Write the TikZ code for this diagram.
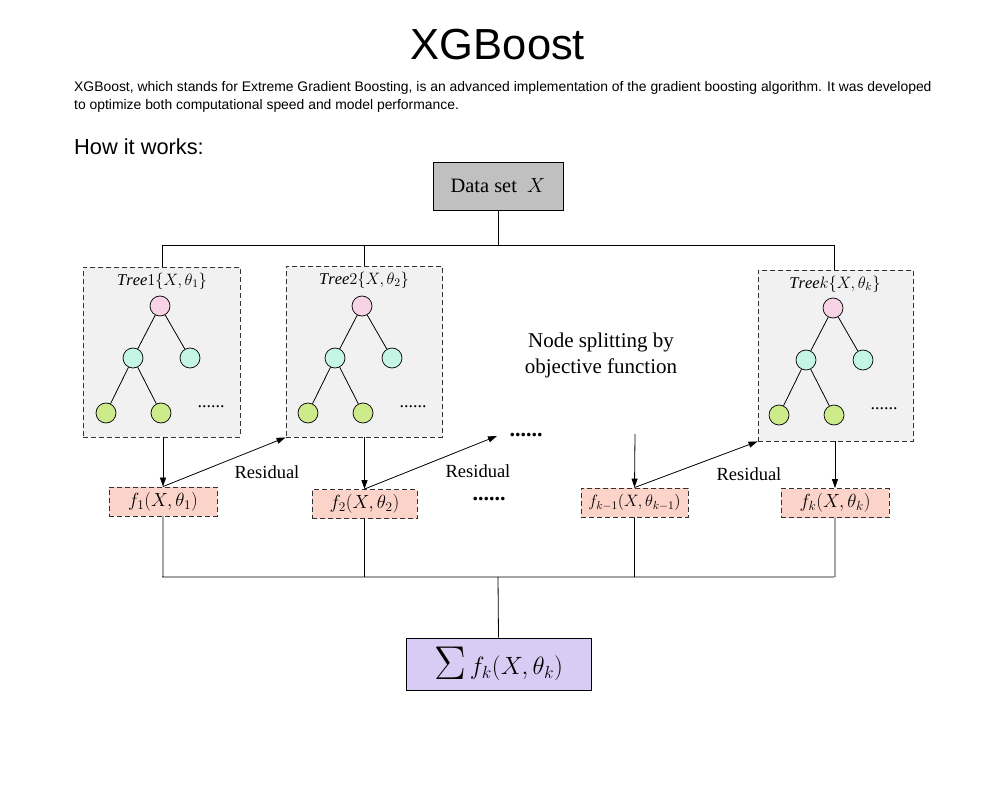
\RequirePackage{fix-cm}
\documentclass[tikz,border=0pt]{standalone}
\usepackage{fontspec}
\setmainfont{Liberation Serif}
\newfontfamily\sans{Liberation Sans}
\usetikzlibrary{arrows.meta}
\definecolor{treebg}{HTML}{F1F1F1}
\definecolor{rootc}{HTML}{F8D3E6}
\definecolor{midc}{HTML}{C5F5E5}
\definecolor{leafc}{HTML}{CDEB8B}
\definecolor{fc}{HTML}{FCD3C8}
\definecolor{sumc}{HTML}{D8CCF4}
\definecolor{dsc}{HTML}{C0C0C0}
\begin{document}
\begin{tikzpicture}[x=1pt,y=-1pt,
  treebox/.style={draw=black!80,dashed,fill=treebg,line width=0.9pt,dash pattern=on 5pt off 3pt},
  fbox/.style={draw=black!80,fill=fc,line width=0.9pt,dash pattern=on 5pt off 3pt,minimum height=29pt,inner sep=1pt,font=\fontsize{19}{21}\selectfont},
  tn/.style={circle,draw,line width=0.7pt,minimum size=20pt,inner sep=0pt},
  ln/.style={line width=0.8pt},
  arr/.style={line width=0.8pt,-{Triangle[length=9pt,width=6pt]}},
  lbl/.style={font=\fontsize{16.5}{18}\selectfont},
  res/.style={font=\fontsize{18.5}{20}\selectfont},
  bigdots/.style={font=\bfseries\fontsize{22}{22}\selectfont}]
\useasboundingbox (0,0) rectangle (996,794);
\node[font=\sans\fontsize{43.5}{46}\selectfont] (title) at (498,45) {XGBoost};
\node[font=\sans\fontsize{13.9}{18}\selectfont,anchor=north west,align=left,inner sep=0] (para) at (74,81) {XGBoost, which stands for Extreme Gradient Boosting, is an advanced implementation of the gradient boosting algorithm. It was developed\\to optimize both computational speed and model performance.};
\node[font=\sans\fontsize{21.8}{24}\selectfont,anchor=west,inner sep=0] (how) at (74,147) {How it works:};
\node[draw,fill=dsc,line width=0.9pt,minimum width=130pt,minimum height=48pt,font=\fontsize{20.4}{22}\selectfont] (ds) at (498,186) {Data set \ $X$};
% trees
\node[treebox,minimum width=157pt,minimum height=170pt] (t1) at (161.5,352) {};
\node[treebox,minimum width=156pt,minimum height=171pt] (t2) at (364,351.5) {};
\node[treebox,minimum width=155pt,minimum height=171pt] (tk) at (835.5,355.5) {};
\node[lbl] (t1l) at (162,281) {$\mathit{Tree}1\{X,\theta_1\}$};
\node[lbl] (t2l) at (364,280) {$\mathit{Tree}2\{X,\theta_2\}$};
\node[lbl] (tkl) at (835,284) {$\mathit{Tree}k\{X,\theta_k\}$};
\foreach \n/\dx/\dy in {1/0/0,2/202/0,k/673/2}{
  \node[tn,fill=rootc] (r\n) at (160+\dx,306+\dy) {};
  \node[tn,fill=midc] (a\n) at (133+\dx,358+\dy) {};
  \node[tn,fill=midc] (b\n) at (190+\dx,358+\dy) {};
  \node[tn,fill=leafc] (c\n) at (106+\dx,413+\dy) {};
  \node[tn,fill=leafc] (d\n) at (161+\dx,413+\dy) {};
  \node[font=\fontsize{18}{18}\selectfont] (e\n) at (211+\dx,407+\dy) {......};
  \draw[ln] (r\n)--(a\n) (r\n)--(b\n) (a\n)--(c\n) (a\n)--(d\n);
}
% top connectors
\coordinate (j0) at (498,245);
\coordinate (j1) at (162,245);
\coordinate (j2) at (364,245);
\coordinate (jk) at (834,245);
\draw[ln] (ds.south)--(j0) (j1)--(jk) (j1)--(j1|-t1.north) (j2)--(j2|-t2.north) (jk)--(jk|-tk.north);
% f boxes
\node[fbox,minimum width=108pt] (f1) at (163,501.5) {$f_1(X,\theta_1)$};
\node[fbox,minimum width=105pt] (f2) at (364.5,504) {$f_2(X,\theta_2)$};
\node[fbox,minimum width=107pt,font=\fontsize{16.5}{18}\selectfont] (fk1) at (634.5,502.5) {$f_{k-1}(X,\theta_{k-1})$};
\node[fbox,minimum width=108pt] (fk) at (835,503) {$f_k(X,\theta_k)$};
\draw[arr] (t1.south-|f1.north) -- (f1.north);
\draw[arr] (t2.south-|f2.north) -- (f2.north);
\draw[arr] (tk.south-|fk.north) -- (fk.north);
\coordinate (fs) at (635,434);
\draw[arr] (fs) -- (fk1.north);
\coordinate (rend2) at (497,436);
\draw[arr] (f1.north) -- (t2.south west);
\draw[arr] (f2.north) -- (rend2);
\draw[arr] (fk1.north) -- (tk.south west);
\node[res] (res1) at (267,472) {Residual};
\node[res] (res2) at (478,471) {Residual};
\node[res] (res3) at (749,474) {Residual};
\node[font=\fontsize{21}{26}\selectfont,align=center] (ns) at (601,355) {Node splitting by\\objective function};
\node[bigdots] (dots1) at (526,435) {......};
\node[bigdots] (dots2) at (489,499) {......};
% bottom
\coordinate (b0) at (498,577);
\coordinate (b1) at (162,577);
\coordinate (bk) at (834,577);
\node[draw,fill=sumc,line width=0.9pt,minimum width=185pt,minimum height=52pt,font=\fontsize{25}{28}\selectfont] (sum) at (498.5,664) {$\raisebox{-0.2em}{\scalebox{1.9}{$\Sigma$}}\, f_k(X,\theta_k)$};
\draw[ln] (b1)--(bk) (b0)--(sum.north)
  (f1.south)--(f1.south|-b1) (f2.south)--(f2.south|-b1) (fk1.south)--(fk1.south|-b1) (fk.south)--(fk.south|-b1);
\end{tikzpicture}
\end{document}
